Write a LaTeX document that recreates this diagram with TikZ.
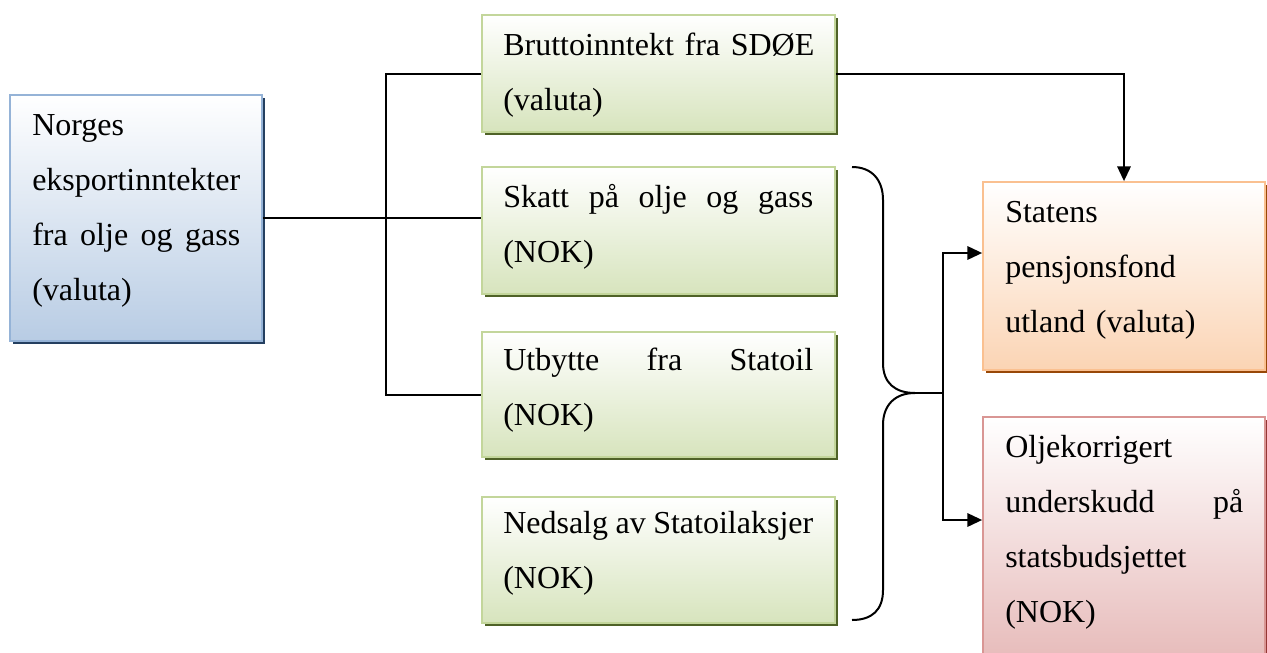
\documentclass[tikz,border=0pt]{standalone}
\usepackage{fontspec}
\setmainfont{Liberation Serif}
\usetikzlibrary{fit,shadows,arrows.meta}
\definecolor{bluebd}{HTML}{95B3D7}
\definecolor{bluefl}{HTML}{B8CCE4}
\definecolor{bluesh}{HTML}{243F60}
\definecolor{greenbd}{HTML}{C3D69B}
\definecolor{greenfl}{HTML}{D7E4BD}
\definecolor{greensh}{HTML}{4F6228}
\definecolor{orangebd}{HTML}{FAC090}
\definecolor{orangefl}{HTML}{FBD4B4}
\definecolor{orangesh}{HTML}{984807}
\definecolor{pinkbd}{HTML}{D99694}
\definecolor{pinkfl}{HTML}{E6B9B8}
\definecolor{pinksh}{HTML}{943634}
\newcommand{\spreadline}[2]{\leavevmode\hbox to #1{#2}}
\begin{document}
\begin{tikzpicture}[x=0.75pt,y=-0.75pt,
  box/.style={draw, line width=1.3pt, inner sep=0pt, rectangle, top color=white},
  bluebox/.style={box, draw=bluebd, bottom color=bluefl,
    drop shadow={shadow xshift=2.6pt, shadow yshift=-2.6pt, fill=bluesh, opacity=1}},
  greenbox/.style={box, draw=greenbd, bottom color=greenfl,
    drop shadow={shadow xshift=2.6pt, shadow yshift=-2.6pt, fill=greensh, opacity=1}},
  orangebox/.style={box, draw=orangebd, bottom color=orangefl,
    drop shadow={shadow xshift=2.6pt, shadow yshift=-2.6pt, fill=orangesh, opacity=1}},
  pinkbox/.style={box, draw=pinkbd, bottom color=pinkfl,
    drop shadow={shadow xshift=2.6pt, shadow yshift=-2.6pt, fill=pinksh, opacity=1}},
  txt/.style={anchor=base west, inner sep=0pt, align=left,
    font=\fontsize{24}{41.25}\selectfont},
  conn/.style={line width=1.5pt, black},
  arr/.style={conn, -{Triangle[length=11pt,width=10pt]}}
]
\clip (0,0) rectangle (1267,653);
\fill[white] (0,0) rectangle (1267,653);

% boxes
\node[bluebox, fit={(10,95) (262,341)}] (A) {};
\node[greenbox, fit={(482,15) (835,132)}] (B1) {};
\node[greenbox, fit={(482,167) (835,294)}] (B2) {};
\node[greenbox, fit={(482,332) (835,457)}] (B3) {};
\node[greenbox, fit={(482,497) (835,623)}] (B4) {};
\node[orangebox, fit={(983,182) (1265,370)}] (C1) {};
\node[pinkbox, fit={(983,417) (1265,668)}] (C2) {};

% texts
\node[txt, text width=165pt] (At) at (32,135)
  {Norges\\eksportinntekter\\\spreadline{156pt}{fra \hfill olje \hfill og \hfill gass}\\(valuta)};
\node[txt, text width=240pt] (B1t) at (503,55)
  {\spreadline{232.5pt}{Bruttoinntekt \hfill fra \hfill SDØE}\\(valuta)};
\node[txt, text width=240pt] (B2t) at (503,207)
  {\spreadline{232.5pt}{Skatt \hfill på \hfill olje \hfill og \hfill gass}\\(NOK)};
\node[txt, text width=240pt] (B3t) at (503,370)
  {\spreadline{232.5pt}{Utbytte \hfill fra \hfill Statoil}\\(NOK)};
\node[txt, text width=240pt] (B4t) at (503,533)
  {\spreadline{232.5pt}{\spaceskip=6pt minus 3.5pt Nedsalg av Statoilaksjer}\\(NOK)};
\node[txt, text width=190pt] (C1t) at (1005,222)
  {Statens\\pensjonsfond\\utland (valuta)};
\node[txt, text width=190pt] (C2t) at (1005,457)
  {Oljekorrigert\\\spreadline{178.5pt}{underskudd \hfill på}\\statsbudsjettet\\(NOK)};

% connectors from the left box
\coordinate (J) at (386,218);
\draw[conn] (A.east) -- (A.east -| B2.west);
\draw[conn] (B1.west) -| (J) |- (B3.west);

% SDOE to fund
\draw[arr] (B1.east) -| (C1.north);

% brace
\coordinate (T) at (915,393);
\draw[conn] (852,167) .. controls (872,167) and (883,180) .. (883,200)
  -- (883,363) .. controls (883,383) and (895,393) .. (T)
  .. controls (895,393) and (883,405) .. (883,425)
  -- (883,590) .. controls (883,610) and (872,620) .. (852,620);

\coordinate (K) at (943,393);
\coordinate (K1) at (943,253);
\coordinate (K2) at (943,520);
\draw[conn] (T) -- (K);
\draw[arr] (K) -- (K1) -- (K1 -| C1.west);
\draw[arr] (K) -- (K2) -- (K2 -| C2.west);
\end{tikzpicture}
\end{document}
